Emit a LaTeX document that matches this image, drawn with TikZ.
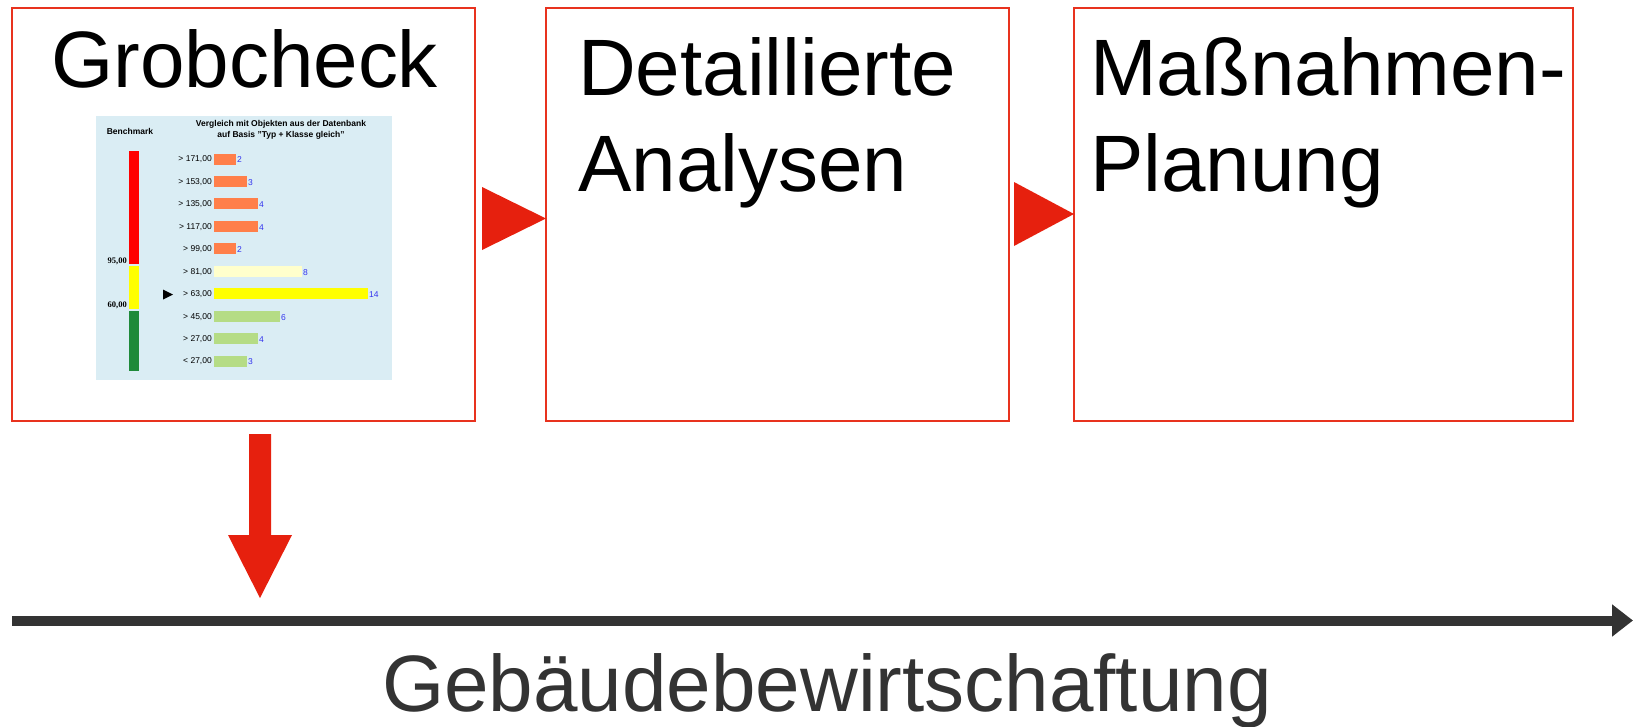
\documentclass[tikz,border=0pt]{standalone}
\usepackage{fontspec}
\setmainfont{Liberation Sans}
\newfontfamily\chartserif{Liberation Serif}
\usetikzlibrary{arrows.meta}
\definecolor{boxred}{HTML}{E8321E}
\definecolor{arrred}{HTML}{E6200E}
\definecolor{axisgray}{HTML}{333333}
\definecolor{chartbg}{HTML}{DAEDF4}
\definecolor{barorange}{HTML}{FF7F4A}
\definecolor{barpale}{HTML}{FFFFCC}
\definecolor{baryellow}{HTML}{FFFF00}
\definecolor{bargreen}{HTML}{B5DC85}
\definecolor{bmgreen}{HTML}{1E8A3A}
\definecolor{valblue}{HTML}{3333EE}
\begin{document}
\begin{tikzpicture}[x=1pt,y=-1pt,
  stagebox/.style={draw=boxred, line width=2pt, anchor=north west, inner sep=0pt, outer sep=0pt},
  bigtext/.style={anchor=base west, inner sep=0pt, font=\fontsize{80}{93}\selectfont},
  rowlabel/.style={anchor=east, inner sep=0pt, font=\fontsize{8.5}{10}\selectfont},
  rowval/.style={anchor=west, inner sep=0pt, text=valblue, font=\fontsize{8.5}{10}\selectfont},
  bmlabel/.style={anchor=east, inner sep=0pt, font=\chartserif\bfseries\fontsize{8.5}{10}\selectfont}]
\useasboundingbox (0,0) rectangle (1633,726);
% stage boxes
\node[stagebox, minimum width=463pt, minimum height=413pt] (b1) at (12,8) {};
\node[stagebox, minimum width=463pt, minimum height=413pt] (b2) at (546,8) {};
\node[stagebox, minimum width=499pt, minimum height=413pt] (b3) at (1074,8) {};
% titles
\node[bigtext] (t1) at (51,87) {Grobcheck};
\node[bigtext] (t2a) at (578,95) {Detaillierte};
\node[bigtext] (t2b) at (578,191) {Analysen};
\node[bigtext] (t3a) at (1090,95) {Maßnahmen-};
\node[bigtext] (t3b) at (1090,191) {Planung};
% triangle arrows between boxes
\fill[arrred] (482,187) -- (482,250) -- (b2.west |- 0,218.5) -- cycle;
\fill[arrred] (1014,182) -- (1014,246) -- (b3.west |- 0,214) -- cycle;
% down arrow
\fill[arrred] (249,434) -- (271,434) -- (271,535) -- (292,535) -- (260,598) -- (228,535) -- (249,535) -- cycle;
% axis
\coordinate (axs) at (12,620.5);
\coordinate (axe) at (1633,620.5);
\draw[axisgray, line width=10pt, -{Triangle[length=21pt,width=31pt]}] (axs) -- (axe);
\node[anchor=base, inner sep=0pt, text=axisgray, font=\fontsize{80}{93}\selectfont] (axl) at (827,711) {Gebäudebewirtschaftung};
% embedded chart
\fill[chartbg] (96,116) rectangle (392,380);
\node[inner sep=0pt, font=\bfseries\fontsize{8.5}{10}\selectfont] (bmh) at (130,131) {Benchmark};
\node[inner sep=0pt, align=center, font=\bfseries\fontsize{8.5}{10.5}\selectfont] (vgh) at (281,130) {Vergleich mit Objekten aus der Datenbank\\auf Basis "Typ + Klasse gleich"};
\fill[red] (129,151) rectangle (139,264);
\fill[baryellow] (129,266) rectangle (139,309);
\fill[bmgreen] (129,311) rectangle (139,371);
\node[bmlabel] (l95) at (127,261) {95,00};
\node[bmlabel] (l60) at (127,305) {60,00};
\fill[black] (163,289.5) -- (173,294.5) -- (163,299.5) -- cycle;
\foreach \lab/\n/\col [count=\i from 0] in {{> 171,00}/2/barorange, {> 153,00}/3/barorange, {> 135,00}/4/barorange, {> 117,00}/4/barorange, {> 99,00}/2/barorange, {> 81,00}/8/barpale, {> 63,00}/14/baryellow, {> 45,00}/6/bargreen, {> 27,00}/4/bargreen, {< 27,00}/3/bargreen}{
  \pgfmathsetmacro{\yy}{159.5+22.45*\i}
  \pgfmathsetmacro{\xe}{214+11*\n}
  \fill[\col] (214,\yy-6) rectangle (\xe,\yy+5);
  \node[rowlabel] (rl\i) at (212,\yy) {\lab};
  \node[rowval] (rv\i) at (\xe+1,\yy+0.5) {\n};
}
\end{tikzpicture}
\end{document}
